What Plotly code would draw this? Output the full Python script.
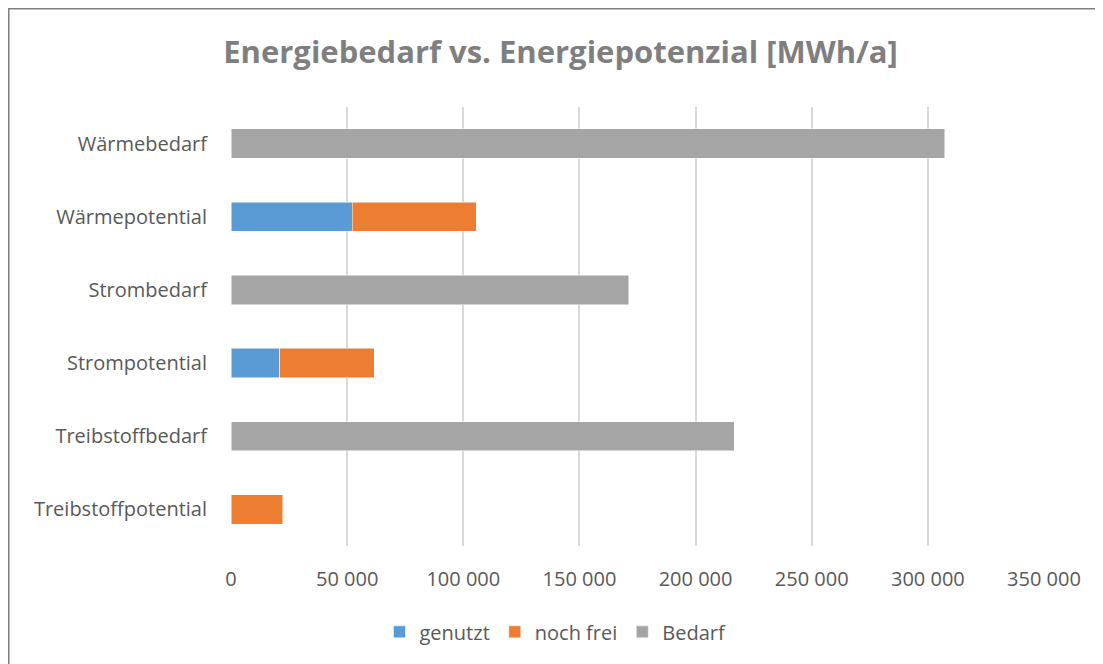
import plotly.graph_objects as go

# categories, top to bottom as in the chart
categories = [
    "Wärmebedarf",
    "Wärmepotential",
    "Strombedarf",
    "Strompotential",
    "Treibstoffbedarf",
    "Treibstoffpotential",
]

# values in MWh/a
genutzt = [None, 52300, None, 20900, None, None]
noch_frei = [None, 53300, None, 40800, None, 22200]
bedarf = [307200, None, 171300, None, 216700, None]

x_ticks = [0, 50000, 100000, 150000, 200000, 250000, 300000, 350000]

series = [
    ("genutzt", genutzt, "#5b9bd5"),
    ("noch frei", noch_frei, "#ed7d31"),
    ("Bedarf", bedarf, "#a5a5a5"),
]

# the page body has an 8px margin, so the figure is sized to fill the window
W, H = 1095, 656
L, R, T, B = 223, 59, 99, 118
plot_w, plot_h = W - L - R, H - T - B

fig = go.Figure()
for name, values, color in series:
    fig.add_trace(
        go.Bar(
            name=name,
            y=categories,
            x=values,
            orientation="h",
            marker=dict(color=color, line=dict(color="white", width=0.5)),
        )
    )

fig.update_layout(
    barmode="stack",
    bargap=0.6,
    width=W,
    height=H,
    paper_bgcolor="white",
    plot_bgcolor="white",
    separators=", ",
    font=dict(family="Open Sans, sans-serif", color="#595959", size=20),
    margin=dict(l=L, r=R, t=T, b=B),
    title=dict(
        text="<b>Energiebedarf vs. Energiepotenzial [MWh/a]</b>",
        font=dict(size=31, color="#7f7f7f"),
        x=0.5046,
        xref="container",
        xanchor="center",
        y=0.933,
        yref="container",
        yanchor="middle",
    ),
    legend=dict(
        orientation="h",
        xref="container",
        x=0.5,
        xanchor="center",
        yref="container",
        y=0.049,
        yanchor="middle",
        font=dict(size=20, color="#595959"),
        traceorder="normal",
        itemwidth=30,
    ),
    # outer chart frame (its right and bottom edges lie outside the window)
    shapes=[
        dict(
            type="rect",
            xref="paper",
            yref="paper",
            x0=-(L - 0.75) / plot_w,
            x1=(W - L + 20) / plot_w,
            y0=-(B + 20) / plot_h,
            y1=1 + (T - 0.75) / plot_h,
            line=dict(color="#7f7f7f", width=1.5),
            layer="below",
        )
    ],
)

fig.update_xaxes(
    range=[0, 350000],
    tickvals=x_ticks,
    tickformat=",d",
    showgrid=True,
    gridcolor="#d9d9d9",
    gridwidth=1.5,
    zeroline=False,
    showline=False,
    ticks="",
    ticklabelstandoff=19,
    tickfont=dict(size=20, color="#595959"),
)
fig.update_yaxes(
    autorange="reversed",
    showgrid=False,
    zeroline=False,
    showline=False,
    ticks="",
    ticklabelstandoff=23,
    tickfont=dict(size=20, color="#595959"),
)

fig.write_html("out.html")
